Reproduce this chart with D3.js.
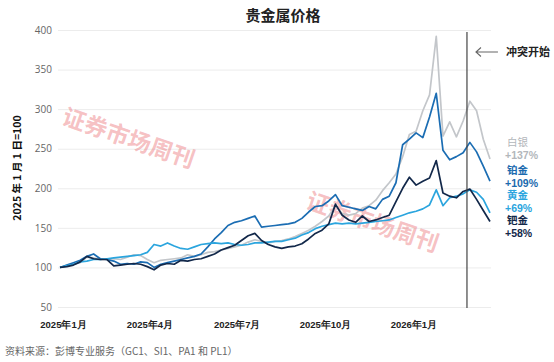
<!DOCTYPE html>
<html>
<head>
<meta charset="utf-8">
<script src="https://cdn.jsdelivr.net/npm/d3@7"></script>
<style>
  body { margin: 0; background: #fff; }
  svg { display: block; font-family: "Noto Sans CJK SC", "Noto Sans", sans-serif; }
</style>
</head>
<body>
<svg id="chart" width="554" height="362"></svg>
<script>
// weekly values, 2025-01-01 = 100
let silver = [100, 102, 104, 106, 113, 112, 110, 110, 111, 110, 113, 116, 115, 110, 106, 109, 110, 111, 112, 116,
  114, 116, 119, 120, 122, 124, 126, 128, 132, 135, 133, 131, 133, 134, 136, 139, 143, 147, 152, 158,
  165, 178, 168, 166, 168, 175, 178, 185, 197, 207, 218, 240, 268, 272, 298, 318, 392, 266, 284, 265,
  285, 310, 298, 262, 237];
let platinum = [100, 103, 106, 109, 114, 117, 111, 110, 108, 104, 105, 104, 107, 106, 100, 104, 106, 108, 110, 112,
  114, 117, 126, 136, 144, 153, 157, 159, 162, 165, 151, 152, 153, 154, 155, 157, 162, 170, 177, 178,
  184, 192, 178, 176, 174, 172, 177, 174, 186, 190, 207, 255, 262, 270, 264, 290, 320, 248, 236, 240,
  245, 258, 246, 228, 209];
let gold = [100, 102, 104, 107, 108, 110, 110, 111, 112, 113, 114, 115, 116, 119, 129, 127, 131, 127, 124, 123,
  126, 129, 130, 131, 130, 131, 129, 128, 129, 131, 131, 132, 133, 133, 135, 137, 141, 144, 149, 152,
  154, 156, 155, 156, 155, 156, 157, 158, 159, 160, 163, 166, 169, 171, 174, 179, 198, 178, 188, 190,
  193, 198, 195, 186, 169];
let palladium = [100, 101, 103, 107, 114, 111, 110, 110, 102, 103, 104, 105, 104, 101, 97, 103, 105, 104, 109, 108,
  110, 111, 114, 117, 122, 125, 128, 134, 140, 143, 134, 129, 126, 124, 126, 127, 130, 136, 143, 147,
  155, 180, 166, 160, 157, 165, 158, 160, 163, 166, 183, 200, 214, 204, 209, 213, 235, 194, 190, 188,
  196, 199, 186, 172, 158];

let seriesNames = ['白银', '铂金', '黄金', '钯金'];
let seriesChange = ['+137%', '+109%', '+69%', '+58%'];
let seriesColors = ['#c3c6ca', '#1b6db3', '#2ba5de', '#12284a'];
let labelColors = ['#b3b7bb', '#1b6aae', '#2ba5de', '#12284a'];

let yTicks = [50, 100, 150, 200, 250, 300, 350, 400];
let xTicks = ['2025-01-01', '2025-04-01', '2025-07-01', '2025-10-01', '2026-01-01'];
let xTickLabels = ['2025年1月', '2025年4月', '2025年7月', '2025年10月', '2026年1月'];
let conflictDate = '2026-03-01';

let parse = d3.timeParse('%Y-%m-%d');
let startDate = parse('2025-01-01');
let dates = silver.map((d, i) => d3.timeDay.offset(startDate, i * 7));

let svg = d3.select('#chart');

// scales
let x = d3.scaleTime().domain([startDate, dates[dates.length - 1]]).range([60, 490]);
let y = d3.scaleLinear().domain([50, 400]).range([307, 30]);

// title
svg.append('text')
  .attr('x', 283).attr('y', 21)
  .attr('text-anchor', 'middle')
  .attr('font-size', 15).attr('font-weight', 'bold')
  .attr('fill', '#222')
  .text('贵金属价格');

// gridlines and y labels
let yAxis = d3.axisLeft(y).tickValues(yTicks).tickSize(-(491 - 58)).tickPadding(6);
let gy = svg.append('g').attr('transform', 'translate(58,0)').call(yAxis);
gy.select('.domain').remove();
gy.selectAll('.tick line').attr('stroke', '#ececec').attr('stroke-width', 1);
gy.selectAll('.tick text')
  .attr('font-size', 10).attr('fill', '#666')
  .attr('font-family', '"Open Sans", "Noto Sans", sans-serif');

// x labels
let xAxis = d3.axisBottom(x).tickValues(xTicks.map(parse)).tickSize(0)
  .tickFormat((d, i) => xTickLabels[i]);
let gx = svg.append('g').attr('transform', 'translate(3,318)').call(xAxis);
gx.select('.domain').remove();
gx.selectAll('.tick text')
  .attr('font-size', 9.5).attr('font-weight', 'bold').attr('fill', '#222');

// y axis title
svg.append('text')
  .attr('transform', 'translate(21,168) rotate(-90)')
  .attr('text-anchor', 'middle')
  .attr('font-size', 10.5).attr('font-weight', 'bold')
  .attr('fill', '#111')
  .text('2025 年 1 月 1 日=100');

// watermarks
[[128, 140], [372, 224]].forEach(p => {
  svg.append('text')
    .attr('transform', 'translate(' + p[0] + ',' + p[1] + ') rotate(19)')
    .attr('text-anchor', 'middle').attr('dominant-baseline', 'middle')
    .attr('font-size', 23).attr('font-weight', 'bold')
    .attr('fill', '#ea6a6f').attr('fill-opacity', 0.42)
    .text('证券市场周刊');
});

// lines
let line = d3.line().x((d, i) => x(dates[i])).y(d => y(d));
let allSeries = [silver, platinum, gold, palladium];
allSeries.forEach((s, k) => {
  svg.append('path')
    .datum(s)
    .attr('d', line)
    .attr('fill', 'none')
    .attr('stroke', seriesColors[k])
    .attr('stroke-width', 1.7)
    .attr('stroke-linejoin', 'round');
});

// conflict marker
let cx = x(parse(conflictDate));
svg.append('line')
  .attr('x1', cx).attr('x2', cx).attr('y1', 32).attr('y2', 308)
  .attr('stroke', '#444').attr('stroke-width', 1.2);
svg.append('path')
  .attr('d', 'M' + (cx + 9) + ',52 H' + (cx + 31) + ' M' + (cx + 14) + ',47.5 L' + (cx + 9) + ',52 L' + (cx + 14) + ',56.5')
  .attr('fill', 'none').attr('stroke', '#666').attr('stroke-width', 1.1);
svg.append('text')
  .attr('x', cx + 39).attr('y', 56)
  .attr('font-size', 11).attr('font-weight', 'bold').attr('fill', '#222')
  .text('冲突开始');

// end labels
let labelY = [146, 174, 199, 224];
seriesNames.forEach((name, k) => {
  svg.append('text')
    .attr('x', 507).attr('y', labelY[k])
    .attr('font-size', 10.5).attr('font-weight', k == 0 ? 'normal' : 'bold')
    .attr('fill', labelColors[k])
    .text(name);
  svg.append('text')
    .attr('x', 505).attr('y', labelY[k] + 12.5)
    .attr('font-size', 10.5).attr('font-weight', 'bold')
    .attr('font-family', '"Liberation Sans", "DejaVu Sans", sans-serif')
    .attr('fill', labelColors[k])
    .text(seriesChange[k]);
});

// source
svg.append('text')
  .attr('x', 5).attr('y', 355)
  .attr('font-size', 10).attr('fill', '#666')
  .text('资料来源：彭博专业服务（GC1、SI1、PA1 和 PL1）');
</script>
</body>
</html>
